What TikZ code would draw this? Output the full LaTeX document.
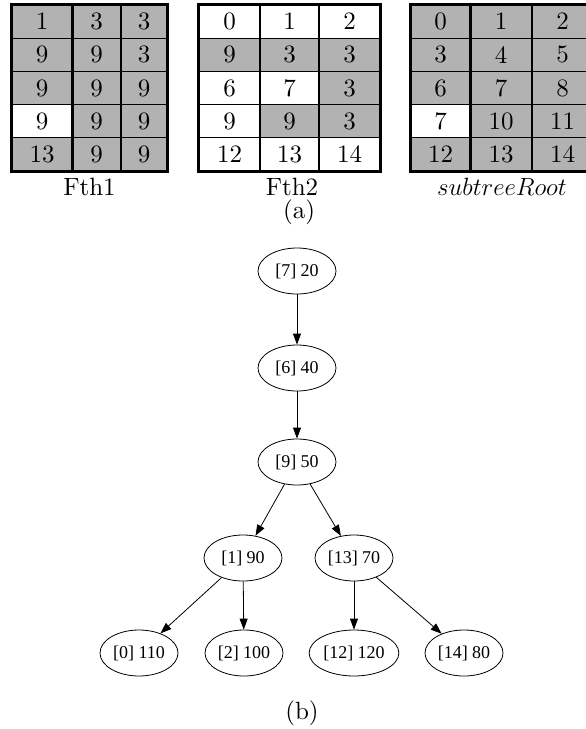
\documentclass[tikz,border=0pt]{standalone}
\usepackage{fontspec}
\setmainfont{lmroman10-regular.otf}[ItalicFont=lmroman10-italic.otf]
\newfontfamily\treefont{Liberation Serif}
\usetikzlibrary{shapes.geometric,arrows.meta}

\begin{document}
\begin{tikzpicture}[x=1pt,y=-1pt,
    cell/.style={draw,line width=1.1pt,inner sep=0pt,minimum height=33.2pt,font=\fontsize{25}{30}\selectfont},
    on/.style={cell,fill=black!30},
    off/.style={cell,fill=white},
    label text/.style={font=\fontsize{25}{30}\selectfont},
    vert/.style={ellipse,draw,line width=0.8pt,minimum width=78pt,minimum height=46pt,inner xsep=1pt,font=\treefont\fontsize{18}{20}\selectfont},
    edge/.style={-{Triangle[length=11pt,width=8pt]},line width=0.8pt}]
  \useasboundingbox (0,0) rectangle (586,729);
  % (a) Fth1
  \foreach \r/\a/\b/\c/\sa/\sb/\sc in {0/1/3/3/on/on/on,1/9/9/3/on/on/on,2/9/9/9/on/on/on,3/9/9/9/off/on/on,4/13/9/9/on/on/on}{
    \node[\sa,minimum width=60pt] (fa-\r-0) at (42,21.6+33.2*\r) {\a};
    \node[\sb,minimum width=49pt] (fa-\r-1) at (96.5,21.6+33.2*\r) {\b};
    \node[\sc,minimum width=46pt] (fa-\r-2) at (144,21.6+33.2*\r) {\c};
  }
  \draw[line width=2pt] (fa-0-0.north west) rectangle (fa-4-2.south east);
  \draw[line width=2pt] (fa-0-0.north east) -- (fa-4-0.south east);
  \node[label text] (la) at (89.5,187) {Fth1};
  % (a) Fth2
  \foreach \r/\a/\b/\c/\sa/\sb/\sc in {0/0/1/2/off/off/off,1/9/3/3/on/on/on,2/6/7/3/off/off/on,3/9/9/3/off/on/on,4/12/13/14/off/off/off}{
    \node[\sa,minimum width=61pt] (fb-\r-0) at (229.5,21.6+33.2*\r) {\a};
    \node[\sb,minimum width=59pt] (fb-\r-1) at (289.5,21.6+33.2*\r) {\b};
    \node[\sc,minimum width=61pt] (fb-\r-2) at (349.5,21.6+33.2*\r) {\c};
  }
  \draw[line width=2pt] (fb-0-0.north west) rectangle (fb-4-2.south east);
  \node[label text] (lb) at (292,187) {Fth2};
  % (a) subtreeRoot
  \foreach \r/\a/\b/\c/\sa/\sb/\sc in {0/0/1/2/on/on/on,1/3/4/5/on/on/on,2/6/7/8/on/on/on,3/7/10/11/off/on/on,4/12/13/14/on/on/on}{
    \node[\sa,minimum width=59pt] (fc-\r-0) at (440.5,21.6+33.2*\r) {\a};
    \node[\sb,minimum width=62pt] (fc-\r-1) at (501,21.6+33.2*\r) {\b};
    \node[\sc,minimum width=61pt] (fc-\r-2) at (562.5,21.6+33.2*\r) {\c};
  }
  \draw[line width=2pt] (fc-0-0.north west) rectangle (fc-4-2.south east);
  \draw[line width=2pt] (fc-0-0.north east) -- (fc-4-0.south east);
  \node[label text] (lc) at (502,187) {$subtreeRoot$};
  \node[label text] (capa) at (299,212) {(a)};
  % (b) tree
  \node[vert] (n7) at (297,271) {[7] 20};
  \node[vert] (n6) at (297,368) {[6] 40};
  \node[vert] (n9) at (297,462) {[9] 50};
  \node[vert] (n1) at (243,558) {[1] 90};
  \node[vert] (n13) at (354,558) {[13] 70};
  \node[vert] (n0) at (139,653) {[0] 110};
  \node[vert] (n2) at (244,653) {[2] 100};
  \node[vert] (n12) at (354,653) {[12] 120};
  \node[vert] (n14) at (464,653) {[14] 80};
  \draw[edge] (n7) -- (n6);
  \draw[edge] (n6) -- (n9);
  \draw[edge] (n9) -- (n1);
  \draw[edge] (n9) -- (n13);
  \draw[edge] (n1) -- (n0);
  \draw[edge] (n1) -- (n2);
  \draw[edge] (n13) -- (n12);
  \draw[edge] (n13) -- (n14);
  \node[label text] (capb) at (302,713) {(b)};
\end{tikzpicture}
\end{document}
